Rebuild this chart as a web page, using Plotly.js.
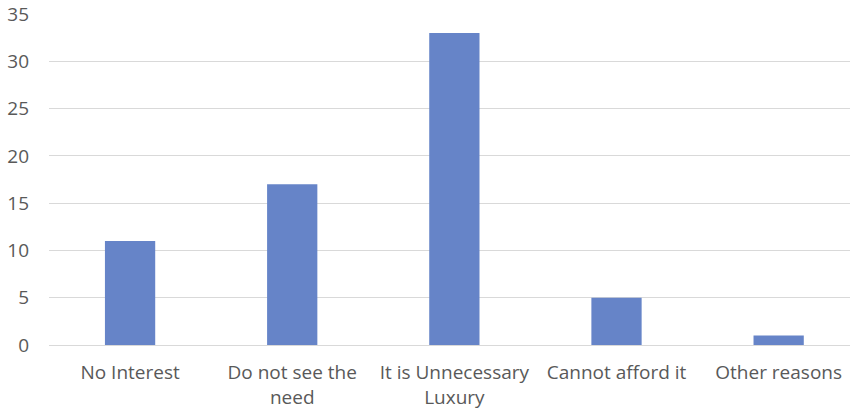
<!DOCTYPE html>
<html><head><meta charset="utf-8">
<script src="https://cdn.plot.ly/plotly-3.0.1.min.js"></script>
<style>html,body{margin:0;padding:0;background:#fff;}#chart{width:850px;height:410px;}</style>
</head><body><div id="chart"></div>
<script>
const categories = ["No Interest", "Do not see the<br>need", "It is Unnecessary<br>Luxury", "Cannot afford it", "Other reasons"];
const values = [11, 17, 33, 5, 1];
const yTicks = [0, 5, 10, 15, 20, 25, 30, 35];

const trace = {
  type: "bar",
  x: categories,
  y: values,
  width: 0.31,
  marker: {color: "#6684c8"},
  hoverinfo: "none"
};
const layout = {
  width: 850, height: 410,
  margin: {l: 49, r: 0, t: 14, b: 65},
  paper_bgcolor: "#fff", plot_bgcolor: "#fff",
  showlegend: false,
  font: {family: "Open Sans, sans-serif", size: 19, color: "#595959"},
  xaxis: {
    type: "category",
    range: [-0.5, 4.44],
    showgrid: false, zeroline: false, showline: false,
    ticks: "", tickangle: 0,
    ticklabelstandoff: 14,
    tickfont: {size: 19, color: "#595959"}
  },
  yaxis: {
    range: [0, 35],
    tickvals: yTicks,
    showgrid: true, gridcolor: "#d9d9d9", gridwidth: 1,
    zeroline: true, zerolinecolor: "#d9d9d9", zerolinewidth: 1,
    showline: false, ticks: "",
    ticklabelstandoff: 19,
    tickfont: {size: 19, color: "#595959"}
  }
};
Plotly.newPlot("chart", [trace], layout, {staticPlot: true, displayModeBar: false});
</script></body></html>
